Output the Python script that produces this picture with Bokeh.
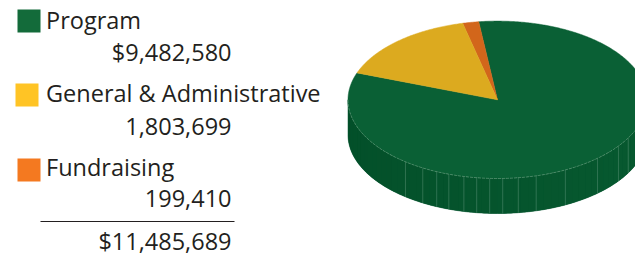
import numpy as np
from bokeh.plotting import figure
from bokeh.models import Range1d
from bokeh.embed import file_html
from bokeh.resources import INLINE
from bokeh.core.properties import value

# ---- data ----
categories = ["Program", "General & Administrative", "Fundraising"]
amounts = [9482580, 1803699, 199410]
legend_colors = ["#136b3a", "#ffc425", "#f47920"]
pie_colors = ["#0a6035", "#dcaa1f", "#d2661b"]
pie_order = [0, 2, 1]          # counter-clockwise order of the slices
dollar_sign = [True, False, False]

total = sum(amounts)
value_labels = [("$" if d else "") + f"{v:,}" for v, d in zip(amounts, dollar_sign)]
total_label = f"${total:,}"

# ---- figure (data units = page pixels, y negated) ----
p = figure(width=635, height=255, x_range=Range1d(0, 635), y_range=Range1d(-255, 0),
           output_backend="svg", toolbar_location=None,
           x_axis_type=None, y_axis_type=None, min_border=0)
p.outline_line_color = None
p.grid.grid_line_color = None
p.background_fill_color = "white"
p.border_fill_color = "white"

# ---- 3D pie ----
cx, cy, rx, ry, depth = 497.0, -99.3, 149.5, 78.7, 35.0
start_deg = 160.0

# side wall: base polygon plus gradient strips
tb = np.radians(np.linspace(180, 360, 181))
bx = cx + rx * np.cos(tb)
by = cy + ry * np.sin(tb)
p.patch(list(bx) + list(bx[::-1]), list(by) + list(by[::-1] - depth),
        fill_color="#055530", line_color="#055530", line_width=0.5)

dark = np.array([0x03, 0x4f, 0x29])
light = np.array([0x08, 0x5b, 0x31])
edges = np.linspace(180, 360, 61)
sx, sy, sc = [], [], []
for a0, a1 in zip(edges[:-1], edges[1:]):
    t = np.radians(np.linspace(a0, a1, 5))
    top_x = cx + rx * np.cos(t)
    top_y = cy + ry * np.sin(t)
    sx.append(list(top_x) + list(top_x[::-1]))
    sy.append(list(top_y) + list(top_y[::-1] - depth))
    f = (0.5 * (a0 + a1) - 180) / 180
    c = (dark + (light - dark) * f).astype(int)
    sc.append("#%02x%02x%02x" % tuple(c))
p.patches(sx, sy, fill_color=sc, line_color=None)

# facet lines on the side wall
facet_deg = [232, 240, 246, 251, 257, 262, 267, 272, 278, 285, 297, 312, 324, 331]
ft = np.radians(facet_deg)
fx = cx + rx * np.cos(ft)
fy = cy + ry * np.sin(ft)
p.segment(x0=fx, y0=fy, x1=fx, y1=fy - depth, line_color="#5e957a", line_width=0.6, line_alpha=0.8)

# top surface wedges
frac = np.array(amounts) / total * 360.0
ang = start_deg
for i in pie_order:
    t = np.radians(np.linspace(ang, ang + frac[i], max(int(frac[i]) * 2, 8)))
    xs = [cx] + list(cx + rx * np.cos(t))
    ys = [cy] + list(cy + ry * np.sin(t))
    p.patch(xs, ys, fill_color=pie_colors[i], line_color=pie_colors[i], line_width=0.5)
    ang += frac[i]

# rim highlight
rt = np.radians(np.linspace(180, 360, 120))
p.line(cx + rx * np.cos(rt), cy + ry * np.sin(rt), line_color="#7aa88c", line_width=0.7,
       line_alpha=0.8, line_dash="3 1")

# ---- legend block ----
font = value("Open Sans")
txt_color = "#231f20"
fs = "23.5px"
shift = 10.5   # compensate renderer's baseline placement
sq_x = [17, 15, 17]
sq_top = [9, 83, 158]
name_base = [30, 103, 177]
val_base = [62, 136, 208]
for i in range(3):
    p.quad(left=sq_x[i], right=sq_x[i] + 23, top=-sq_top[i], bottom=-(sq_top[i] + 23),
           fill_color=legend_colors[i], line_color=None)
p.text(x=[45.5] * 3, y=[-(b - shift) for b in name_base], text=categories,
       text_font=font, text_font_size=fs, text_color=txt_color,
       text_align="left", text_baseline="alphabetic")
p.text(x=[231] * 3, y=[-(b - shift) for b in val_base], text=value_labels,
       text_font=font, text_font_size=fs, text_color=txt_color,
       text_align="right", text_baseline="alphabetic")
p.segment(x0=[40], y0=[-221], x1=[234], y1=[-221], line_color=txt_color, line_width=1.2)
p.text(x=[231], y=[-(250.5 - shift)], text=[total_label],
       text_font=font, text_font_size=fs, text_color=txt_color,
       text_align="right", text_baseline="alphabetic")

open("out.html", "w").write(file_html(p, INLINE))
